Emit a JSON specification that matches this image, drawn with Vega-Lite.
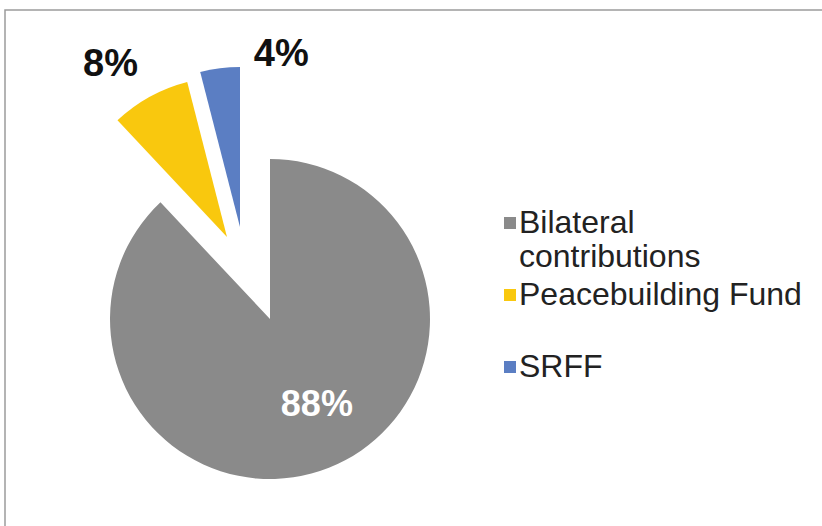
{
  "$schema": "https://vega.github.io/schema/vega-lite/v6.json",
  "autosize": {"type": "none"},
  "padding": {"left": 5, "top": 10, "right": -4, "bottom": -4},
  "width": 821,
  "height": 520,
  "background": "white",
  "view": {"stroke": "#9c9c9c", "strokeWidth": 1.5},
  "config": {
    "style": {
      "view": {"stroke": "#9c9c9c", "strokeWidth": 1.5},
      "cell": {"stroke": "#9c9c9c", "strokeWidth": 1.5}
    },
    "font": "Liberation Sans"
  },
  "data": {
    "values": [
      {"source": "Bilateral contributions", "share": 88, "label": "88%", "idx": 1},
      {"source": "Peacebuilding Fund", "share": 8, "label": "8%", "idx": 2},
      {"source": "SRFF", "share": 4, "label": "4%", "idx": 3}
    ]
  },
  "transform": [
    {"stack": "share", "groupby": [], "sort": [{"field": "idx", "order": "ascending"}], "as": ["s0", "s1"]}
  ],
  "layer": [
    {
      "transform": [{"filter": "datum.source === 'Bilateral contributions'"}],
      "mark": {"type": "arc", "radius": 160, "xOffset": -145.5, "yOffset": 49},
      "encoding": {
        "theta": {"field": "s0", "type": "quantitative", "scale": {"domain": [0, 100]}},
        "theta2": {"field": "s1"},
        "color": {"field": "source", "type": "nominal",
          "scale": {"domain": ["Bilateral contributions", "Peacebuilding Fund", "SRFF"], "range": ["#8a8a8a", "#f9c80e", "#5b7ec3"]},
          "legend": {
            "title": null, "orient": "none", "legendX": 489, "legendY": 197,
            "symbolType": "square", "symbolSize": 144, "symbolStrokeWidth": 0,
            "labelFontSize": 32, "labelFont": "Liberation Sans", "labelColor": "#222222",
            "labelLimit": 400, "labelOffset": -7, "rowPadding": 6, "padding": 0,
            "labelExpr": "datum.label === 'Bilateral contributions' ? ['Bilateral', 'contributions'] : datum.label === 'Peacebuilding Fund' ? ['Peacebuilding Fund', ''] : datum.label"
          }
        }
      }
    },
    {
      "transform": [{"filter": "datum.source === 'Peacebuilding Fund'"}],
      "mark": {"type": "arc", "radius": 160, "xOffset": -188.5, "yOffset": -33},
      "encoding": {
        "theta": {"field": "s0", "type": "quantitative", "scale": {"domain": [0, 100]}},
        "theta2": {"field": "s1"},
        "color": {"field": "source", "type": "nominal"}
      }
    },
    {
      "transform": [{"filter": "datum.source === 'SRFF'"}],
      "mark": {"type": "arc", "radius": 160, "xOffset": -175.5, "yOffset": -43},
      "encoding": {
        "theta": {"field": "s0", "type": "quantitative", "scale": {"domain": [0, 100]}},
        "theta2": {"field": "s1"},
        "color": {"field": "source", "type": "nominal"}
      }
    },
    {
      "mark": {"type": "text", "radius": 92, "xOffset": -145.5, "yOffset": 49, "dx": 13,
        "fontSize": 36, "fontWeight": "bold", "fill": "white", "align": "center", "baseline": "middle"},
      "encoding": {
        "theta": {"field": "share", "type": "quantitative", "stack": true, "scale": {"domain": [0, 100]}},
        "order": {"field": "idx"},
        "text": {"condition": {"test": "datum.source === 'Bilateral contributions'", "field": "label"}, "value": ""}
      }
    },
    {
      "mark": {"type": "text", "radius": 196, "xOffset": -188.5, "yOffset": -33, "dx": -22,
        "fontSize": 38, "fontWeight": "bold", "fill": "#111111", "align": "center", "baseline": "middle"},
      "encoding": {
        "theta": {"field": "share", "type": "quantitative", "stack": true, "scale": {"domain": [0, 100]}},
        "order": {"field": "idx"},
        "text": {"condition": {"test": "datum.source === 'Peacebuilding Fund'", "field": "label"}, "value": ""}
      }
    },
    {
      "mark": {"type": "text", "radius": 173, "xOffset": -175.5, "yOffset": -43, "dx": 63,
        "fontSize": 38, "fontWeight": "bold", "fill": "#111111", "align": "center", "baseline": "middle"},
      "encoding": {
        "theta": {"field": "share", "type": "quantitative", "stack": true, "scale": {"domain": [0, 100]}},
        "order": {"field": "idx"},
        "text": {"condition": {"test": "datum.source === 'SRFF'", "field": "label"}, "value": ""}
      }
    }
  ]
}
